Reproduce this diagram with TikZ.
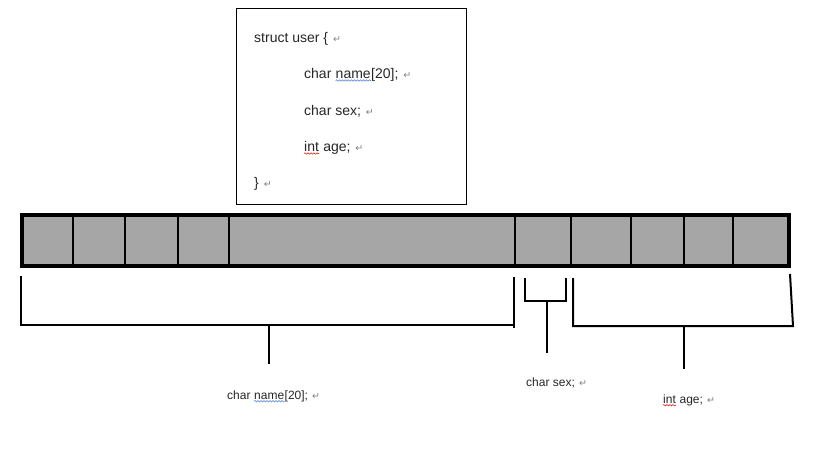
\documentclass[tikz,border=0pt]{standalone}
\usepackage{fontspec}
\setmainfont{Liberation Sans}
\newfontfamily\symf{DejaVu Sans}
\usetikzlibrary{decorations.pathmorphing}
\definecolor{cellgray}{HTML}{A6A6A6}
\definecolor{retgray}{HTML}{7F7F7F}
\definecolor{spellblue}{HTML}{4A7FD6}
\definecolor{spellred}{HTML}{E02020}
\newcommand{\retmark}{\hspace{0.35em}{\symf\fontsize{9.5}{9.5}\selectfont\textcolor{retgray}{↵}}}
\begin{document}
\begin{tikzpicture}[x=1pt,y=-1pt,
  code/.style={font=\fontsize{14}{16}\selectfont, inner sep=0pt, anchor=base west, text=black!85},
  lbl/.style={font=\fontsize{12}{14}\selectfont, inner sep=0pt, anchor=base west, text=black!85},
  brk/.style={line width=2pt},
  wavy/.style={decorate, decoration={snake, amplitude=0.7pt, segment length=3pt}, line width=0.6pt}
]
\useasboundingbox (0,0) rectangle (835,448);
% code box
\draw[line width=1pt] (236.5,8.5) rectangle (466.5,204.5);
\node[code] (l1) at (254,42) {struct user \{\retmark};
\node[code] (l2a) at (304,78) {char};
\node[code] (l2b) at ([xshift=3.9pt]l2a.base east) {name};
\node[code] (l2c) at (l2b.base east) {[20];\retmark};
\draw[wavy, spellblue] ([yshift=-2.5pt]l2b.base west) -- ([yshift=-2.5pt]l2b.base east);
\node[code] (l3) at (304,115) {char sex;\retmark};
\node[code] (l4a) at (304,151) {int};
\node[code] (l4b) at (l4a.base east) {\ age;\retmark};
\draw[wavy, spellred] ([yshift=-2.5pt]l4a.base west) -- ([yshift=-2.5pt]l4a.base east);
\node[code] (l5) at (254,187) {\}\retmark};
% memory bar
\fill[cellgray] (22,215) rectangle (789,266);
\foreach \x in {73,125,178,229,515,571,631,684,733}
  \draw[line width=2pt] (\x,215) -- (\x,266);
\draw[line width=4pt] (22,215) rectangle (789,266);
% brackets
\coordinate (nameL) at (21,276);
\coordinate (nameR) at (514,277);
\coordinate (nameS) at (269,325);
\draw[brk] (nameL) -- (21,325) -- (514,325);
\draw[brk] (nameR) -- (514,328);
\draw[brk] (nameS) -- (269,364);
\coordinate (sexS) at (547,301);
\draw[brk] (525,278) -- (525,301) -- (566,301) -- (566,278);
\draw[brk] (sexS) -- (547,353);
\coordinate (ageS) at (684,326);
\draw[brk] (573,278) -- (573,326) -- (793,326) -- (790,274);
\draw[brk] (ageS) -- (684,369);
% labels
\node[lbl] (n1) at (227,399) {char};
\node[lbl] (n2) at ([xshift=3.3pt]n1.base east) {name};
\node[lbl] (n3) at (n2.base east) {[20];\retmark};
\draw[wavy, spellblue] ([yshift=-2.2pt]n2.base west) -- ([yshift=-2.2pt]n2.base east);
\node[lbl] (s1) at (526,386) {char sex;\retmark};
\node[lbl] (a1) at (663,403) {int};
\node[lbl] (a2) at (a1.base east) {\ age;\retmark};
\draw[wavy, spellred] ([yshift=-2.2pt]a1.base west) -- ([yshift=-2.2pt]a1.base east);
\end{tikzpicture}
\end{document}
